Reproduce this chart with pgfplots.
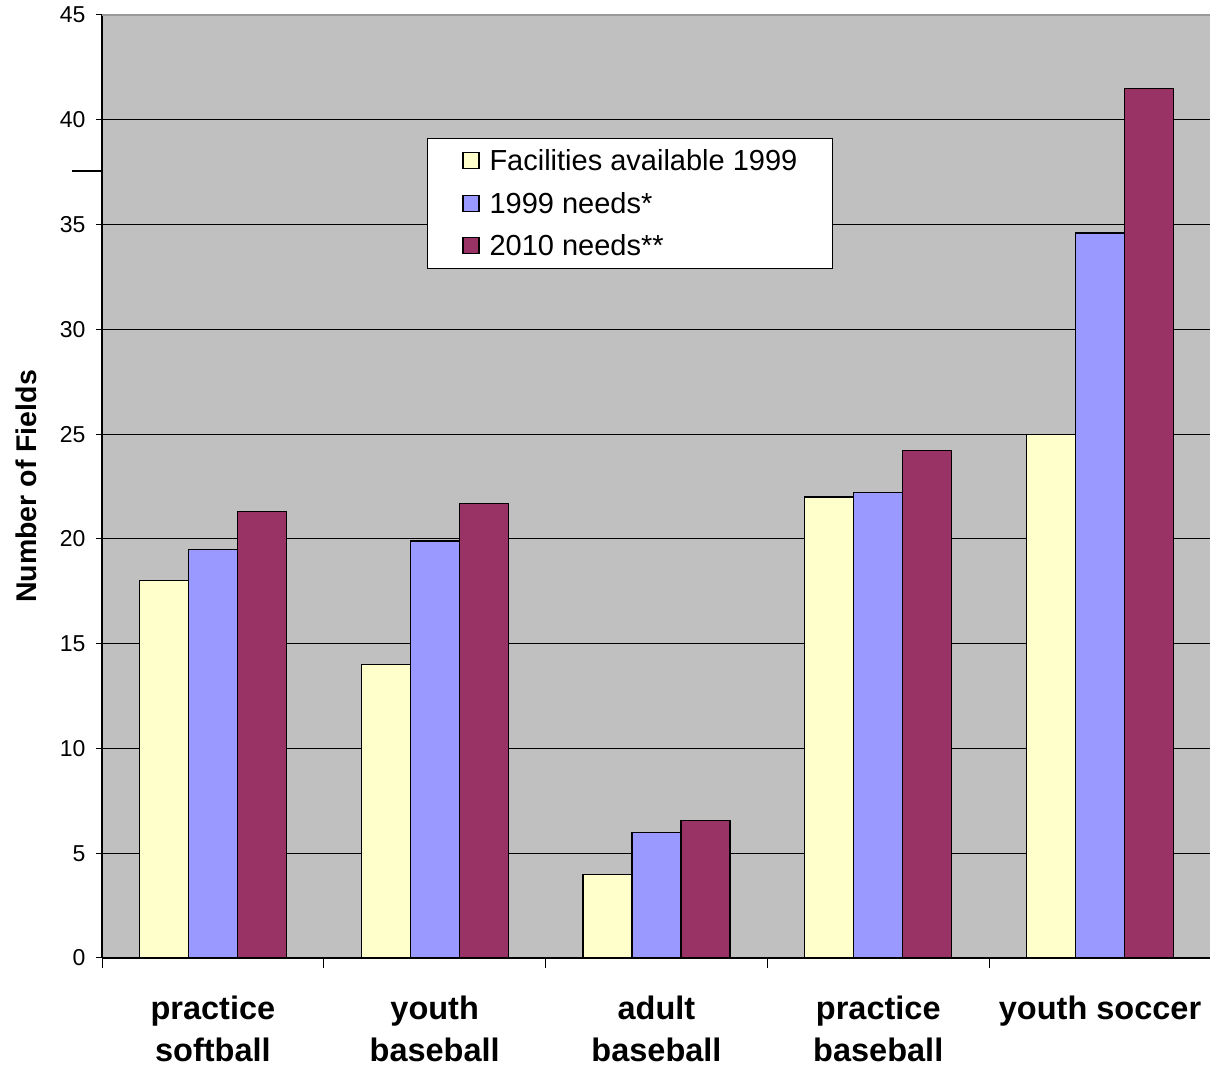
\documentclass[border=0pt]{standalone}
\usepackage{pgfplots}
\pgfplotsset{compat=1.18}
\usepackage{fontspec}
\setmainfont{Liberation Sans}

\definecolor{plotbg}{HTML}{C0C0C0}
\definecolor{facil}{HTML}{FFFFCC}
\definecolor{need99}{HTML}{9999FF}
\definecolor{need10}{HTML}{993366}
\definecolor{topline}{HTML}{999999}

\begin{document}
\begin{tikzpicture}[x=1pt,y=1pt]
\begin{axis}[
    at={(102pt,107pt)}, anchor=south west,
    scale only axis, width=1109pt, height=943pt,
    xmin=-0.5, xmax=4.5, ymin=0, ymax=45,
    clip=false,
    axis background/.style={fill=plotbg},
    axis lines*=left,
    axis line style={black, line width=1.2pt},
    tick align=outside,
    ybar=0pt, bar width=0.221,
    ytick={0,5,...,45},
    ymajorgrids,
    major grid style={black, line width=1pt},
    ytick style={black, line width=1pt, /pgfplots/major tick length=6pt},
    xtick={-0.5,0.5,...,4.5},
    xticklabels={},
    xtick style={black, line width=1pt, /pgfplots/major tick length=10pt},
    extra x ticks={0,1,2,3,4},
    extra x tick labels={{practice\\softball},{youth\\baseball},{adult\\baseball},{practice\\baseball},{youth soccer}},
    extra x tick style={xtick style={draw=none}, grid=none},
    xticklabel style={font=\fontsize{32.5}{42}\selectfont\bfseries, align=center, anchor=north, inner sep=0pt, yshift=-33pt},
    /pgf/number format/assume math mode=true,
    yticklabel style={font=\fontsize{23}{27}\selectfont, anchor=east, inner sep=0pt, xshift=-12pt},
    ylabel={Number of Fields},
    ylabel style={at={(axis description cs:-0.0685,0.5)}, anchor=center, font=\fontsize{28.5}{34}\selectfont\bfseries},
    legend style={at={(rel axis cs:0.293,0.8696)}, anchor=north west, draw=black, line width=0.8pt, fill=white,
        font=\fontsize{29}{35}\selectfont, inner xsep=35pt, inner ysep=9.5pt, row sep=16.5pt, column sep=10pt,
        nodes={inner sep=0pt, text height=23pt, text depth=3pt}},
    legend cell align=left,
    legend image code/.code={\draw[#1, draw=black, line width=1.2pt] (0pt,-8pt) rectangle (16pt,8pt);},
    every axis plot/.append style={draw=black, line width=1.2pt},
]
\addplot[fill=facil] coordinates {(0,18) (1,14) (2,4) (3,22) (4,25)};
\addplot[fill=need99] coordinates {(0,19.5) (1,19.9) (2,6) (3,22.2) (4,34.6)};
\addplot[fill=need10] coordinates {(0,21.3) (1,21.7) (2,6.55) (3,24.2) (4,41.5)};
\legend{Facilities available 1999, 1999 needs*, 2010 needs**}
\draw[topline, line width=1.5pt] (rel axis cs:0,1) -- (rel axis cs:1,1);
\draw[black, line width=2pt] (axis cs:-0.5,37.55) -- ++(-30pt,0pt);
\end{axis}
\pgfresetboundingbox
\path[use as bounding box] (0,0) rectangle (1210pt,1065pt);
\end{tikzpicture}
\end{document}
